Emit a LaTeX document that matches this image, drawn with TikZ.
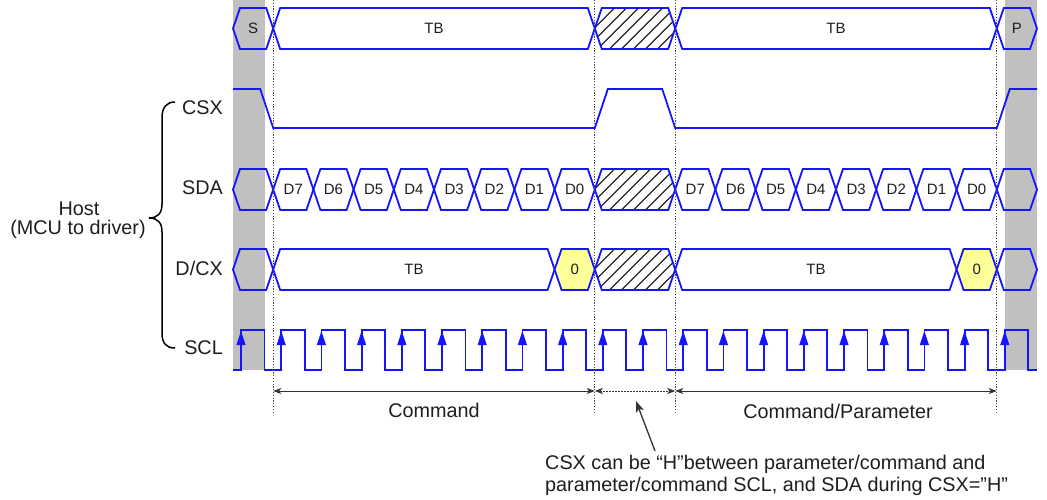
\documentclass[tikz,border=0pt]{standalone}
\usepackage{fontspec}
\setmainfont{Liberation Sans}
\usetikzlibrary{arrows.meta}
\definecolor{bandgray}{RGB}{192,192,192}
\definecolor{sigblue}{RGB}{20,20,255}
\definecolor{lowyellow}{RGB}{255,255,153}
\definecolor{txt}{RGB}{30,30,30}
\newcommand\hexdraw[4]{%
  \draw[#4] ({233+40.2*(#1)},{#3}) -- ({233+40.2*(#1)+7},{#3-20.5}) -- ({233+40.2*(#2)-7},{#3-20.5})
    -- ({233+40.2*(#2)},{#3}) -- ({233+40.2*(#2)-7},{#3+20.5}) -- ({233+40.2*(#1)+7},{#3+20.5}) -- cycle;}
\newcommand\hexclip[3]{%
  \clip ({233+40.2*(#1)},{#3}) -- ({233+40.2*(#1)+7},{#3-20.5}) -- ({233+40.2*(#2)-7},{#3-20.5})
    -- ({233+40.2*(#2)},{#3}) -- ({233+40.2*(#2)-7},{#3+20.5}) -- ({233+40.2*(#1)+7},{#3+20.5}) -- cycle;}
\newcommand\hatchhex[1]{%
  \begin{scope}
    \hexclip{9}{11}{#1}
    \foreach \i in {0,...,12} \draw[hatchline] ({545+\i*12},{#1+25}) -- ({595+\i*12},{#1-25});
  \end{scope}
  \hexdraw{9}{11}{#1}{sig}}
\tikzset{
  sig/.style={draw=sigblue,line width=1.8pt,line join=miter},
  hatchline/.style={draw=black!85,line width=1.1pt},
  guide/.style={draw=black!70,line width=1pt,dash pattern=on 1.2pt off 1.6pt},
  dimarrow/.style={draw=black!80,line width=1pt,{Stealth[length=8pt,width=6pt,inset=2pt]}-{Stealth[length=8pt,width=6pt,inset=2pt]}},
  callout/.style={draw=black!80,line width=1.3pt,-{Stealth[length=11pt,width=8pt,inset=2.5pt]}},
  small/.style={font=\fontsize{15}{17}\selectfont,text=txt,inner sep=0pt},
  big/.style={font=\fontsize{19.8}{22}\selectfont,text=txt,inner sep=0pt},
  bracestyle/.style={draw=black,line width=1.5pt}
}
\begin{document}
\begin{tikzpicture}[x=1pt,y=-1pt]
\useasboundingbox (0,0) rectangle (1047,500);
% gray bands
\fill[bandgray] (233,0) rectangle (264.5,370);
\fill[bandgray] (1005,0) rectangle (1037,370);
% top bus row
\hexdraw{0}{1}{28.5}{sig}
\hexdraw{1}{9}{28.5}{sig}
\hatchhex{28.5}
\hexdraw{11}{19}{28.5}{sig}
\hexdraw{19}{20}{28.5}{sig}
\node[small] (s) at (253.1,28.5) {S};
\node[small] (tb1) at (434,28.5) {TB};
\node[small] (tb2) at (836,28.5) {TB};
\node[small] (p) at (1016.9,28.5) {P};
% CSX
\draw[sig] (233,89) -- (260.2,89) -- (273.2,128) -- (594.8,128) -- (607.8,89) -- (662.2,89)
  -- (675.2,128) -- (996.8,128) -- (1009.8,89) -- (1037,89);
% SDA
\hexdraw{0}{1}{189.5}{sig}
\foreach \k in {1,...,8,11,12,...,18} {\hexdraw{\k}{\k+1}{189.5}{sig}}
\hatchhex{189.5}
\hexdraw{19}{20}{189.5}{sig}
\foreach \k/\t in {1/D7,2/D6,3/D5,4/D4,5/D3,6/D2,7/D1,8/D0,11/D7,12/D6,13/D5,14/D4,15/D3,16/D2,17/D1,18/D0}
  \node[small] (sda\k) at ({233+40.2*(\k+0.5)},189.5) {\t};
% D/CX
\hexdraw{0}{1}{269.5}{sig}
\hexdraw{1}{8}{269.5}{sig}
\hexdraw{8}{9}{269.5}{sig,fill=lowyellow}
\hatchhex{269.5}
\hexdraw{11}{18}{269.5}{sig}
\hexdraw{18}{19}{269.5}{sig,fill=lowyellow}
\hexdraw{19}{20}{269.5}{sig}
\node[small] (dtb1) at (414,269.5) {TB};
\node[small] (dz1) at (574.7,269.5) {0};
\node[small] (dtb2) at (816,269.5) {TB};
\node[small] (dz2) at (976.7,269.5) {0};
% SCL
\draw[sig] (233,370) \foreach \k in {0,...,19} {
   -- ({233+40.2*\k+8},370) -- ({233+40.2*\k+8},330) -- ({233+40.2*\k+31.5},330) -- ({233+40.2*\k+31.5},370)}
   -- (1037,370);
\foreach \k in {0,...,19}
  \fill[sigblue] ({233+40.2*\k+8},331) -- ++(-4.6,14) -- ++(9.2,0) -- cycle;
% guide lines
\foreach \n/\x in {1/273.2,9/594.8,11/675.2,19/996.8} {
  \coordinate (gt\n) at (\x,0);
  \coordinate (gb\n) at (\x,412);
  \coordinate (ga\n) at (\x,391);
  \draw[guide] (gt\n) -- (gb\n);
}
\draw[dimarrow] (ga1) -- (ga9);
\draw[dimarrow,dash pattern=on 1.5pt off 1.5pt] (ga9) -- (ga11);
\draw[dimarrow] (ga11) -- (ga19);
\node[big] (cmd) at (434,410) {Command};
\node[big] (cmdp) at (838,411) {Command/Parameter};
% callout
\node[big,anchor=base west] (note1) at (545,469) {CSX can be “H”between parameter/command and};
\node[big,anchor=base west] (note2) at (545,491) {parameter/command SCL, and SDA during CSX=”H”};
\coordinate (ctip) at (636,401);
\coordinate (ctail) at (655,451);
\draw[callout] (ctail) -- (ctip);
% left labels
\node[big,anchor=east] (lcsx) at (223,108) {CSX};
\node[big,anchor=east] (lsda) at (223,188) {SDA};
\node[big,anchor=east] (ldcx) at (223,268) {D/CX};
\node[big,anchor=east] (lscl) at (223,348) {SCL};
\node[big] (host) at (79,208.5) {Host};
\node[big] (mcu) at (78,229) {(MCU to driver)};
\draw[bracestyle] (175,102) .. controls (166,102) and (162,108) .. (162,118) -- (162,204)
  .. controls (162,213) and (158,218) .. (149,218) .. controls (158,218) and (162,223) .. (162,232)
  -- (162,333) .. controls (162,343) and (166,348) .. (175,348);
\end{tikzpicture}
\end{document}
